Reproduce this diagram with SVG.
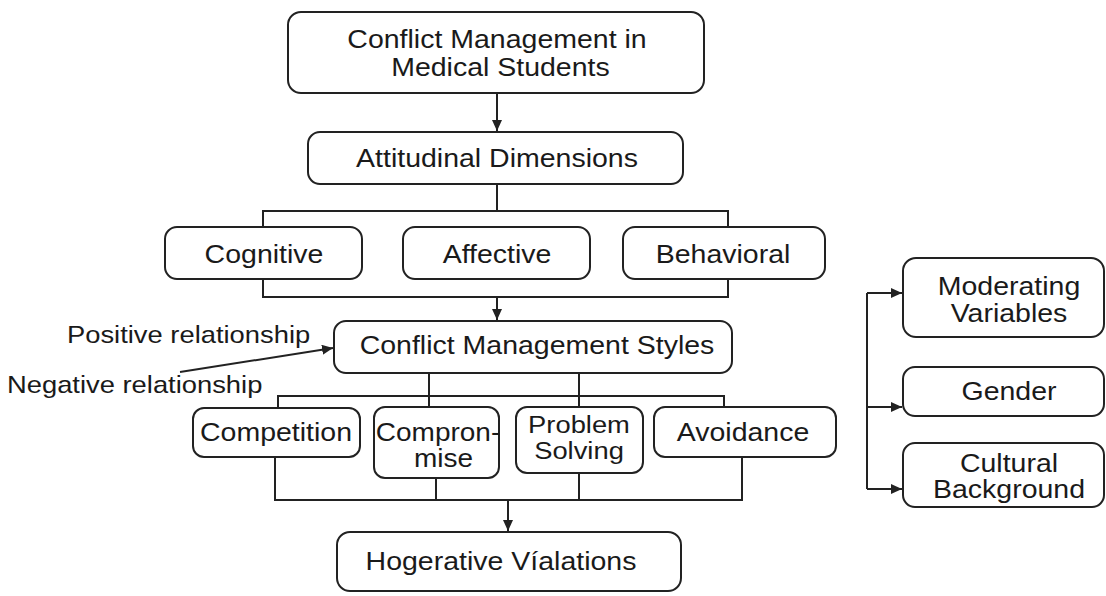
<svg xmlns="http://www.w3.org/2000/svg" width="1106" height="596" viewBox="0 0 1106 596">
<defs>
<style>
.box{fill:#fff;stroke:#222;stroke-width:2}
.t{font-family:"Liberation Sans",Arial,sans-serif;font-size:25px;fill:#1a1a1a;text-anchor:middle}
.l{font-family:"Liberation Sans",Arial,sans-serif;font-size:24px;fill:#1a1a1a;text-anchor:start}
.c{fill:none;stroke:#222;stroke-width:2}
</style>
<marker id="ah" markerUnits="userSpaceOnUse" markerWidth="12" markerHeight="12" refX="11" refY="5" orient="auto">
<path d="M0,0 L11,5 L0,10 z" fill="#222"/>
</marker>
</defs>
<rect width="1106" height="596" fill="#fff"/>
<g id="connectors">
<path class="c" d="M497,93 V131" marker-end="url(#ah)"/>
<path class="c" d="M497,184 V211"/>
<path class="c" d="M263,227 V211 H728 V227"/>
<path class="c" d="M263,279 V297 H728 V279"/>
<path class="c" d="M497,297 V320" marker-end="url(#ah)"/>
<path class="c" d="M429,373 V407"/>
<path class="c" d="M579,373 V407"/>
<path class="c" d="M278,408 V396 H724 V407"/>
<path class="c" d="M275,457 V500 H742 V457"/>
<path class="c" d="M436,478 V500"/>
<path class="c" d="M579,473 V500"/>
<path class="c" d="M508,500 V531" marker-end="url(#ah)"/>
<path class="c" d="M180,372 L333,348" stroke-width="1.8" marker-end="url(#ah)"/>
<path class="c" d="M867,293 V489"/>
<path class="c" d="M867,293 H902" marker-end="url(#ah)"/>
<path class="c" d="M867,407 H902" marker-end="url(#ah)"/>
<path class="c" d="M867,489 H902" marker-end="url(#ah)"/>
</g>
<g id="labels">
<text class="l" transform="translate(67,0) scale(1.14,1)" y="343">Positive relationship</text>
<text class="l" transform="translate(7,0) scale(1.14,1)" y="393">Negative relationship</text>
</g>
<g id="n-top">
<rect class="box" x="288" y="12" width="416" height="81" rx="13"/>
<g transform="translate(497,0) scale(1.14,1)"><text class="t" x="0" y="48">Conflict Management in</text><text class="t" x="3" y="76">Medical Students</text></g>
</g>
<g id="n-attitudinal">
<rect class="box" x="308" y="132" width="375" height="52" rx="12"/>
<text class="t" transform="translate(497,0) scale(1.14,1)" y="167">Attitudinal Dimensions</text>
</g>
<g id="n-cognitive">
<rect class="box" x="165" y="227" width="197" height="52" rx="12"/>
<text class="t" transform="translate(264,0) scale(1.14,1)" y="263">Cognitive</text>
</g>
<g id="n-affective">
<rect class="box" x="403" y="227" width="187" height="52" rx="12"/>
<text class="t" transform="translate(497,0) scale(1.14,1)" y="263">Affective</text>
</g>
<g id="n-behavioral">
<rect class="box" x="623" y="227" width="202" height="52" rx="12"/>
<text class="t" transform="translate(723,0) scale(1.14,1)" y="263">Behavioral</text>
</g>
<g id="n-styles">
<rect class="box" x="334" y="321" width="398" height="52" rx="12"/>
<text class="t" transform="translate(537,0) scale(1.14,1)" y="354">Conflict Management Styles</text>
</g>
<g id="n-competition">
<rect class="box" x="193" y="408" width="167" height="49" rx="11"/>
<text class="t" transform="translate(276,0) scale(1.14,1)" y="441">Competition</text>
</g>
<g id="n-compromise">
<rect class="box" x="374" y="407" width="125" height="71" rx="11"/>
<g transform="translate(438,0) scale(1.12,1)"><text class="t" x="0" y="441">Compron-</text><text class="t" x="5" y="467">mise</text></g>
</g>
<g id="n-problem">
<rect class="box" x="516" y="407" width="127" height="66" rx="11"/>
<g transform="translate(579,0) scale(1.14,1)"><text class="t" x="0" y="433" style="font-size:24px">Problem</text><text class="t" x="0" y="459" style="font-size:24px">Solving</text></g>
</g>
<g id="n-avoidance">
<rect class="box" x="654" y="407" width="182" height="50" rx="11"/>
<text class="t" transform="translate(743,0) scale(1.14,1)" y="441">Avoidance</text>
</g>
<g id="n-hogerative">
<rect class="box" x="337" y="532" width="344" height="59" rx="13"/>
<text class="t" transform="translate(501,0) scale(1.14,1)" y="570">Hogerative Víalations</text>
</g>
<g id="n-moderating">
<rect class="box" x="903" y="258" width="201" height="79" rx="13"/>
<g transform="translate(1009,0) scale(1.14,1)"><text class="t" x="0" y="295">Moderating</text><text class="t" x="0" y="322">Variables</text></g>
</g>
<g id="n-gender">
<rect class="box" x="903" y="367" width="201" height="49" rx="12"/>
<text class="t" transform="translate(1009,0) scale(1.14,1)" y="400">Gender</text>
</g>
<g id="n-cultural">
<rect class="box" x="903" y="443" width="201" height="64" rx="12"/>
<g transform="translate(1009,0) scale(1.14,1)"><text class="t" x="0" y="472">Cultural</text><text class="t" x="0" y="498">Background</text></g>
</g>
</svg>
